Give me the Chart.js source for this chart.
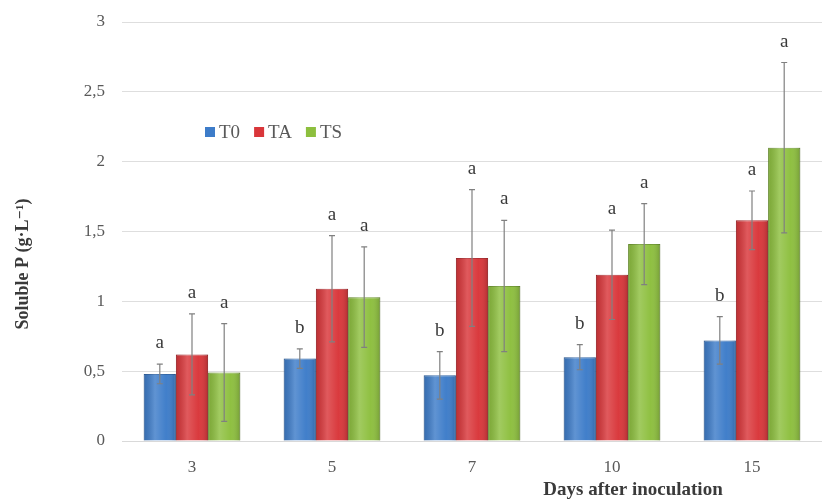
<!DOCTYPE html>
<html lang="en">
  <head>
    <meta charset="UTF-8" />
    <title>Soluble P</title>
    <script src="https://cdn.jsdelivr.net/npm/chart.js"></script>
    <style>
      html, body { margin: 0; padding: 0; background: #fff; }
      #wrap { width: 822px; height: 502px; }
    </style>
  </head>
  <body>
    <div id="wrap"><canvas id="pChart" width="822" height="502"></canvas></div>

    <script>
      // days after inoculation
      const days = ["3", "5", "7", "10", "15"];

      // mean soluble P (g/L)
      const t0 = [0.48, 0.59, 0.47, 0.6, 0.72];
      const ta = [0.62, 1.09, 1.31, 1.19, 1.58];
      const ts = [0.49, 1.03, 1.11, 1.41, 2.1];

      // error bars (+/-)
      const t0Err = [0.07, 0.07, 0.17, 0.09, 0.17];
      const taErr = [0.29, 0.38, 0.49, 0.32, 0.21];
      const tsErr = [0.35, 0.36, 0.47, 0.29, 0.61];

      // significance letters
      const t0Sig = ["a", "b", "b", "b", "b"];
      const taSig = ["a", "a", "a", "a", "a"];
      const tsSig = ["a", "a", "a", "a", "a"];

      const yTicks = [0, 0.5, 1, 1.5, 2, 2.5, 3];

      const serif = "'Liberation Serif', 'DejaVu Serif', serif";
      const textGray = "#595959";
      const darkText = "#3a3a3a";

      // shading + error bars + letters
      const extras = {
        id: "extras",
        afterDatasetsDraw(chart) {
          const ctx = chart.ctx;
          const y = chart.scales.y;
          chart.data.datasets.forEach((ds, di) => {
            const meta = chart.getDatasetMeta(di);
            meta.data.forEach((bar, i) => {
              const p = bar.getProps(["x", "y", "base", "width"], true);
              const left = p.x - p.width / 2;
              const g = ctx.createLinearGradient(left, 0, left + p.width, 0);
              g.addColorStop(0, "rgba(0,0,0,0.12)");
              g.addColorStop(0.35, "rgba(255,255,255,0.18)");
              g.addColorStop(0.7, "rgba(255,255,255,0.02)");
              g.addColorStop(1, "rgba(0,0,0,0.18)");
              ctx.save();
              ctx.fillStyle = g;
              ctx.fillRect(left, p.y, p.width, p.base - p.y);
              ctx.restore();
            });
          });
          chart.data.datasets.forEach((ds, di) => {
            const meta = chart.getDatasetMeta(di);
            meta.data.forEach((bar, i) => {
              const v = ds.data[i];
              const e = ds.err[i];
              const x = bar.x;
              const top = y.getPixelForValue(v + e);
              const bot = y.getPixelForValue(v - e);
              ctx.save();
              ctx.strokeStyle = "#808080";
              ctx.lineWidth = 1.2;
              ctx.beginPath();
              ctx.moveTo(x, top);
              ctx.lineTo(x, bot);
              ctx.moveTo(x - 3, top);
              ctx.lineTo(x + 3, top);
              ctx.moveTo(x - 3, bot);
              ctx.lineTo(x + 3, bot);
              ctx.stroke();
              ctx.fillStyle = darkText;
              ctx.font = "19px " + serif;
              ctx.textAlign = "center";
              ctx.textBaseline = "alphabetic";
              ctx.fillText(ds.sig[i], x, top - 16);
              ctx.restore();
            });
          });
        },
        afterDraw(chart) {
          const ctx = chart.ctx;
          ctx.save();
          // axis titles
          ctx.fillStyle = darkText;
          ctx.font = "bold 19px " + serif;
          ctx.textAlign = "center";
          ctx.textBaseline = "middle";
          ctx.fillText("Days after inoculation", 633, 490);
          ctx.font = "bold 18px " + serif;
          ctx.translate(23, 264);
          ctx.rotate(-Math.PI / 2);
          ctx.fillText("Soluble P (g\u00B7L\u207B\u00B9)", 0, 0);
          ctx.restore();

          // legend
          ctx.save();
          ctx.font = "19px " + serif;
          ctx.textBaseline = "middle";
          let lx = 205;
          const ly = 132;
          chart.data.datasets.forEach((ds) => {
            ctx.fillStyle = ds.backgroundColor;
            ctx.fillRect(lx, ly - 5, 10, 10);
            ctx.fillStyle = textGray;
            ctx.textAlign = "left";
            ctx.fillText(ds.label, lx + 14, ly + 1);
            lx += 14 + ctx.measureText(ds.label).width + 14;
          });
          ctx.restore();
        },
      };

      const ctx = document.getElementById("pChart").getContext("2d");
      new Chart(ctx, {
        type: "bar",
        data: {
          labels: days,
          datasets: [
            { label: "T0", data: t0, err: t0Err, sig: t0Sig, backgroundColor: "#3d7cc9", borderColor: "#2f64a6", borderWidth: 1 },
            { label: "TA", data: ta, err: taErr, sig: taSig, backgroundColor: "#d9363a", borderColor: "#b02a2e", borderWidth: 1 },
            { label: "TS", data: ts, err: tsErr, sig: tsSig, backgroundColor: "#8dbf3e", borderColor: "#6f9a2f", borderWidth: 1 },
          ],
        },
        options: {
          responsive: false,
          animation: false,
          layout: { padding: { top: 22, right: 0, left: 0, bottom: 0 } },
          plugins: {
            legend: { display: false },
            tooltip: { enabled: false },
          },
          datasets: {
            bar: { categoryPercentage: 0.69, barPercentage: 1.0 },
          },
          scales: {
            x: {
              grid: { display: false, drawTicks: false },
              border: { display: true, color: "#d9d9d9" },
              ticks: { color: textGray, font: { family: serif, size: 17 }, padding: 16 },
              afterFit: (s) => { s.height = 61; s.paddingLeft = 0; s.paddingRight = 0; },
            },
            y: {
              min: 0,
              max: 3,
              afterBuildTicks: (s) => { s.ticks = yTicks.map((v) => ({ value: v })); },
              grid: { color: "#dedede", drawTicks: false },
              border: { display: false },
              ticks: {
                color: textGray,
                font: { family: serif, size: 17 },
                padding: 17,
                callback: (v) => String(v).replace(".", ","),
              },
              afterFit: (s) => { s.width = 122; s.paddingTop = 0; s.paddingBottom = 0; },
            },
          },
        },
        plugins: [extras],
      });
    </script>
  </body>
</html>
